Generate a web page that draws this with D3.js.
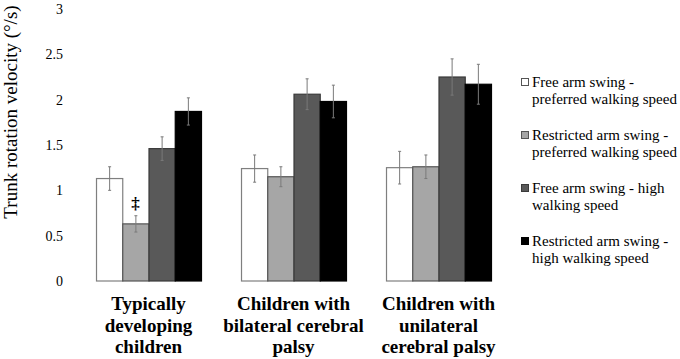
<!DOCTYPE html>
<html lang="en">
  <head>
    <meta charset="utf-8" />
    <title>Trunk rotation velocity</title>
    <script src="https://d3js.org/d3.v7.min.js"></script>
    <style>
      body { margin: 0; background: white; }
      text, tspan { font-family: "Liberation Serif", "Times New Roman", serif; fill: #000; }
    </style>
  </head>
  <body>
    <svg width="680" height="359"></svg>
    <script type="text/javascript">
      // groups along the x axis (one array per label line)
      const groups = [
        ["Typically", "developing", "children"],
        ["Children with", "bilateral cerebral", "palsy"],
        ["Children with", "unilateral", "cerebral palsy"],
      ];
      const conditions = [
        ["Free arm swing -", "preferred walking speed"],
        ["Restricted arm swing -", "preferred walking speed"],
        ["Free arm swing - high", "walking speed"],
        ["Restricted arm swing -", "high walking speed"],
      ];
      // mean per condition, one array per group
      const means = [
        [1.13, 0.63, 1.46, 1.87],
        [1.24, 1.15, 2.06, 1.98],
        [1.25, 1.26, 2.25, 2.17],
      ];
      // error bar half-length
      const errors = [
        [0.13, 0.09, 0.13, 0.15],
        [0.15, 0.11, 0.17, 0.18],
        [0.18, 0.13, 0.2, 0.22],
      ];
      // significance marks: [group, condition, symbol]
      const marks = [[0, 1, "\u2021"]];
      const yTicks = [0, 0.5, 1, 1.5, 2, 2.5, 3];

      const fills = ["#ffffff", "#a6a6a6", "#595959", "#000000"];
      const strokes = ["#7f7f7f", "#555555", "#3a3a3a", "#000000"];
      const SERIF = '"Liberation Serif", "Times New Roman", serif';

      const svg = d3.select("svg");

      const x0 = d3
        .scaleBand()
        .domain(d3.range(groups.length))
        .range([76, 511])
        .paddingInner(0.276)
        .paddingOuter(0.138);

      const x1 = d3
        .scaleBand()
        .domain(d3.range(conditions.length))
        .range([0, x0.bandwidth()]);

      const y = d3.scaleLinear().domain([0, 3]).range([281, 9]);

      // y tick labels (no axis line)
      const yAxis = svg
        .append("g")
        .attr("transform", "translate(63,0)")
        .call(d3.axisLeft(y).tickValues(yTicks).tickSize(0).tickPadding(0).tickFormat(d3.format("")));
      yAxis.attr("font-family", null);
      yAxis.select(".domain").remove();
      yAxis
        .selectAll("text")
        .style("font-family", SERIF)
        .style("font-size", "14px")
        .attr("fill", "#000");

      svg
        .append("text")
        .attr("transform", "translate(17,112) rotate(-90)")
        .attr("text-anchor", "middle")
        .style("font-family", SERIF)
        .style("font-size", "19px")
        .text("Trunk rotation velocity (\u00b0/s)");

      const rows = means.map((vals, gi) =>
        vals.map((v, ci) => ({ g: gi, c: ci, v: v, e: errors[gi][ci] }))
      );

      const grp = svg
        .selectAll(".group")
        .data(rows)
        .enter()
        .append("g")
        .attr("class", "group")
        .attr("transform", (d, i) => "translate(" + x0(i) + ",0)");

      grp
        .selectAll("rect")
        .data((d) => d)
        .enter()
        .append("rect")
        .attr("x", (d) => x1(d.c) + 0.5)
        .attr("y", (d) => y(d.v))
        .attr("width", x1.bandwidth())
        .attr("height", (d) => y(0) - y(d.v))
        .attr("fill", (d) => fills[d.c])
        .attr("stroke", (d) => strokes[d.c])
        .attr("stroke-width", 1.2);

      // error bars
      const eb = grp
        .selectAll(".err")
        .data((d) => d)
        .enter()
        .append("g")
        .attr("class", "err")
        .attr("stroke", "#7a7a7a")
        .attr("stroke-width", 1);
      const cx = (d) => x1(d.c) + x1.bandwidth() / 2 + 0.5;
      eb.append("line")
        .attr("x1", cx)
        .attr("x2", cx)
        .attr("y1", (d) => y(d.v + d.e))
        .attr("y2", (d) => y(d.v - d.e));
      eb.append("line")
        .attr("x1", (d) => cx(d) - 1.5)
        .attr("x2", (d) => cx(d) + 1.5)
        .attr("y1", (d) => y(d.v + d.e))
        .attr("y2", (d) => y(d.v + d.e));
      eb.append("line")
        .attr("x1", (d) => cx(d) - 1.5)
        .attr("x2", (d) => cx(d) + 1.5)
        .attr("y1", (d) => y(d.v - d.e))
        .attr("y2", (d) => y(d.v - d.e));

      // significance symbol above the error bar
      svg
        .selectAll(".mark")
        .data(marks)
        .enter()
        .append("text")
        .attr("class", "mark")
        .attr("x", (d) => x0(d[0]) + x1(d[1]) + x1.bandwidth() / 2)
        .attr("y", (d) => y(means[d[0]][d[1]] + errors[d[0]][d[1]]) - 7)
        .attr("text-anchor", "middle")
        .style("font-family", SERIF)
        .style("font-size", "17px")
        .style("font-weight", "bold")
        .text((d) => d[2]);

      // group labels
      svg
        .selectAll(".glabel")
        .data(groups)
        .enter()
        .append("text")
        .attr("class", "glabel")
        .attr("text-anchor", "middle")
        .style("font-family", SERIF)
        .style("font-size", "19px")
        .style("font-weight", "bold")
        .attr("transform", (d, i) => "translate(" + (x0(i) + x0.bandwidth() / 2) + ",310)")
        .selectAll("tspan")
        .data((d) => d)
        .enter()
        .append("tspan")
        .attr("x", 0)
        .attr("y", (d, i) => i * 21.5)
        .text((d) => d);

      // legend
      const leg = svg
        .selectAll(".legend")
        .data(conditions)
        .enter()
        .append("g")
        .attr("class", "legend")
        .attr("transform", (d, i) => "translate(521," + (78 + i * 53) + ")");
      leg
        .append("rect")
        .attr("x", 0.5)
        .attr("y", 0.5)
        .attr("width", 7)
        .attr("height", 7)
        .attr("fill", (d, i) => fills[i])
        .attr("stroke", (d, i) => (i === 0 ? "#555" : strokes[i]));
      leg
        .append("text")
        .style("font-family", SERIF)
        .style("font-size", "15px")
        .selectAll("tspan")
        .data((d) => d)
        .enter()
        .append("tspan")
        .attr("x", 11)
        .attr("y", (d, i) => 9 + i * 16.5)
        .text((d) => d);
    </script>
  </body>
</html>
